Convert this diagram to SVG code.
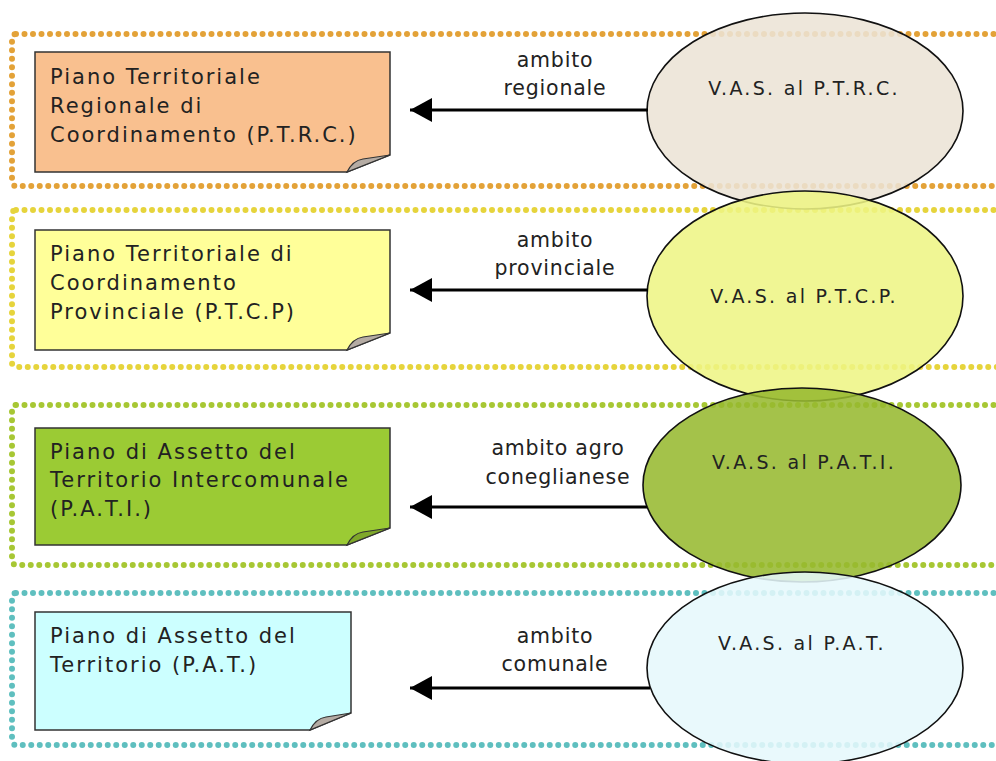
<svg xmlns="http://www.w3.org/2000/svg" width="996" height="761" viewBox="0 0 996 761">
<style>
.band{fill:none;stroke-width:6;stroke-linecap:round;stroke-dasharray:0 8.5}
.box{stroke:#333;stroke-width:1.5}
.fold{fill:#b5aca4;stroke:#333;stroke-width:1.2}
.ell{stroke:#111;stroke-width:1.6;fill-opacity:0.87}
.t{font-family:"DejaVu Sans",Verdana,sans-serif;font-size:21px;letter-spacing:2px;fill:#222}
.lbl{font-family:"DejaVu Sans",Verdana,sans-serif;font-size:20.5px;letter-spacing:0.8px;fill:#222;text-anchor:middle}
.et{font-family:"DejaVu Sans",Verdana,sans-serif;font-size:19px;letter-spacing:2.3px;fill:#222;text-anchor:middle}
.arr{stroke:#000;stroke-width:3;fill:none;marker-end:url(#ah)}
</style>
<defs>
<marker id="ah" markerUnits="userSpaceOnUse" markerWidth="24" markerHeight="24" refX="22" refY="12" orient="auto">
<path d="M0,0 L22,12 L0,24 Z" fill="#000"/>
</marker>
</defs>
<rect width="996" height="761" fill="#fff"/>
<g id="bands">
<rect class="band" x="12" y="34" width="1000" height="152" rx="4" stroke="#e3a238"/>
<rect class="band" x="12" y="210" width="1000" height="157" rx="4" stroke="#e6d43c"/>
<rect class="band" x="12" y="405" width="1000" height="160" rx="4" stroke="#a7c734"/>
<rect class="band" x="12" y="593" width="1000" height="152" rx="4" stroke="#5fbfbf"/>
</g>
<g id="n1">
<path class="box" d="M35,52 H390 V155 L347,172 H35 Z" fill="#f9c08f"/>
<path class="fold" d="M347,172 C351,164 356,160 363,159 L390,155 Z"/>
<text class="t" x="50" y="84">Piano Territoriale</text>
<text class="t" x="50" y="113">Regionale di</text>
<text class="t" x="50" y="142">Coordinamento (P.T.R.C.)</text>
</g>
<g id="n2">
<path class="box" d="M35,230 H390 V333 L347,350 H35 Z" fill="#ffff99"/>
<path class="fold" d="M347,350 C351,342 356,338 363,337 L390,333 Z"/>
<text class="t" x="50" y="261">Piano Territoriale di</text>
<text class="t" x="50" y="290">Coordinamento</text>
<text class="t" x="50" y="319">Provinciale (P.T.C.P)</text>
</g>
<g id="n3">
<path class="box" d="M35,428 H390 V528 L347,545 H35 Z" fill="#9bcb34"/>
<path class="fold" d="M347,545 C351,537 356,533 363,532 L390,528 Z" style="fill:#7fa82a"/>
<text class="t" x="50" y="459">Piano di Assetto del</text>
<text class="t" x="50" y="487">Territorio Intercomunale</text>
<text class="t" x="50" y="516">(P.A.T.I.)</text>
</g>
<g id="n4">
<path class="box" d="M35,612 H351 V713 L310,730 H35 Z" fill="#ccffff"/>
<path class="fold" d="M310,730 C314,722 319,718 326,717 L351,713 Z"/>
<text class="t" x="50" y="643">Piano di Assetto del</text>
<text class="t" x="50" y="672">Territorio (P.A.T.)</text>
</g>
<g id="e1">
<ellipse class="ell" cx="805" cy="111" rx="158" ry="98" fill="#ece3d6"/>
<text class="et" x="804" y="95">V.A.S. al P.T.R.C.</text>
</g>
<g id="e2">
<ellipse class="ell" cx="805" cy="296" rx="158" ry="105" fill="#eef584"/>
<text class="et" x="804" y="303">V.A.S. al P.T.C.P.</text>
</g>
<g id="e3">
<ellipse class="ell" cx="802" cy="485" rx="159" ry="97" fill="#97b92f"/>
<text class="et" x="804" y="469">V.A.S. al P.A.T.I.</text>
</g>
<g id="e4">
<ellipse class="ell" cx="805" cy="668" rx="158" ry="96" fill="#e6f8fb"/>
<text class="et" x="802" y="650">V.A.S. al P.A.T.</text>
</g>
<g id="connectors">
<line class="arr" x1="648" y1="110" x2="410" y2="110"/>
<line class="arr" x1="648" y1="290" x2="410" y2="290"/>
<line class="arr" x1="647" y1="507" x2="410" y2="507"/>
<line class="arr" x1="650" y1="688" x2="410" y2="688"/>
<text class="lbl" x="555" y="67">ambito</text>
<text class="lbl" x="555" y="95">regionale</text>
<text class="lbl" x="555" y="247">ambito</text>
<text class="lbl" x="555" y="275">provinciale</text>
<text class="lbl" x="558" y="455">ambito agro</text>
<text class="lbl" x="558" y="484">coneglianese</text>
<text class="lbl" x="555" y="643">ambito</text>
<text class="lbl" x="555" y="671">comunale</text>
</g>
</svg>
